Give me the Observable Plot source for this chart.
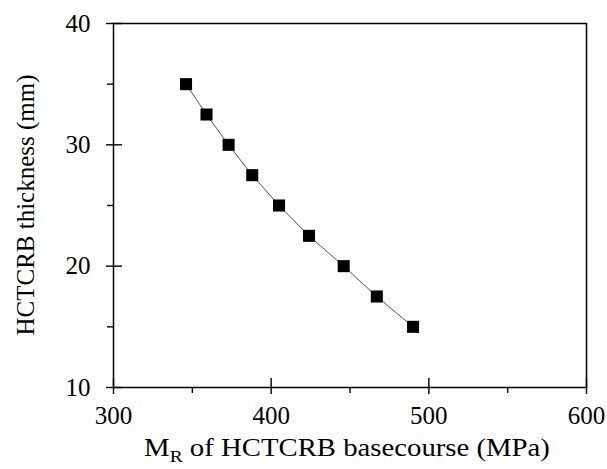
<!DOCTYPE html>
<html><head><meta charset="utf-8">
<script src="https://cdn.jsdelivr.net/npm/d3@7"></script>
<script src="https://cdn.jsdelivr.net/npm/@observablehq/plot@0.6"></script>
<style>body{margin:0;background:#fff}</style>
</head><body><div id="chart"></div>
<script>
const modulus = [346, 359, 373, 388, 405, 424, 446, 467, 490];
const thickness = [35, 32.5, 30, 27.5, 25, 22.5, 20, 17.5, 15];
const xMajorTicks = [300, 400, 500, 600];
const xMinorTicks = [350, 450, 550];
const yMajorTicks = [10, 20, 30, 40];
const yMinorTicks = [15, 25, 35];
const xLabelMain = "M";
const xLabelSub = "R";
const xLabelRest = " of HCTCRB basecourse (MPa)";
const yLabel = "HCTCRB thickness (mm)";

const data = modulus.map((m, i) => ({m, t: thickness[i]}));
const font = "Liberation Serif, Tinos, Times New Roman, DejaVu Serif, serif";
const W = 607, H = 469, ML = 113, MR = 21, MT = 23, MB = 82;
const plotW = W - ML - MR, plotH = H - MT - MB;

const plot = Plot.plot({
  width: W, height: H,
  marginLeft: ML, marginRight: MR, marginTop: MT, marginBottom: MB,
  style: {fontFamily: font, fontSize: "25px", color: "#000", background: "#fff", overflow: "visible"},
  x: {domain: [300, 600], label: null},
  y: {domain: [10, 40], label: null},
  marks: [
    Plot.line(data, {x: "m", y: "t", stroke: "#555", strokeWidth: 1}),
    Plot.dot(data, {x: "m", y: "t", symbol: "square", r: 6.8, fill: "#000", stroke: "none"}),
    Plot.frame({stroke: "#000", strokeWidth: 1.5}),
    Plot.axisX({ticks: xMajorTicks, tickSize: 7, fill: "none", strokeWidth: 1.4, label: null}),
    Plot.ruleX(xMajorTicks, {x: d => d, insetTop: plotH - 9, stroke: "#000", strokeWidth: 1.4}),
    Plot.axisX({ticks: xMinorTicks, tickSize: 6, fill: "none", strokeWidth: 1.4, label: null}),
    Plot.axisX({ticks: xMajorTicks, tickSize: 0, tickPadding: 19, fontSize: 25, fontFamily: font, label: null}),
    Plot.axisY({ticks: yMajorTicks, tickSize: 7, fill: "none", strokeWidth: 1.4, label: null}),
    Plot.ruleY(yMajorTicks, {y: d => d, insetRight: plotW - 9, stroke: "#000", strokeWidth: 1.4}),
    Plot.axisY({ticks: yMinorTicks, tickSize: 6, fill: "none", strokeWidth: 1.4, label: null}),
    Plot.axisY({ticks: yMajorTicks, tickSize: 0, tickPadding: 23, fontSize: 25, fontFamily: font, label: null})
  ]
});

const svg = d3.select(plot);
const xl = svg.append("text")
  .attr("transform", "translate(347,456) scale(1.15,1)")
  .attr("text-anchor", "middle")
  .style("font-family", font)
  .attr("font-size", 25)
  .attr("fill", "#000");
xl.append("tspan").text(xLabelMain);
xl.append("tspan").attr("font-size", 17).attr("dy", 6).text(xLabelSub);
xl.append("tspan").attr("dy", -6).text(xLabelRest);

svg.append("text")
  .attr("transform", "translate(34,205) rotate(-90)")
  .attr("text-anchor", "middle")
  .style("font-family", font)
  .attr("font-size", 25)
  .attr("fill", "#000")
  .text(yLabel);

document.getElementById("chart").append(plot);
</script>
</body></html>
